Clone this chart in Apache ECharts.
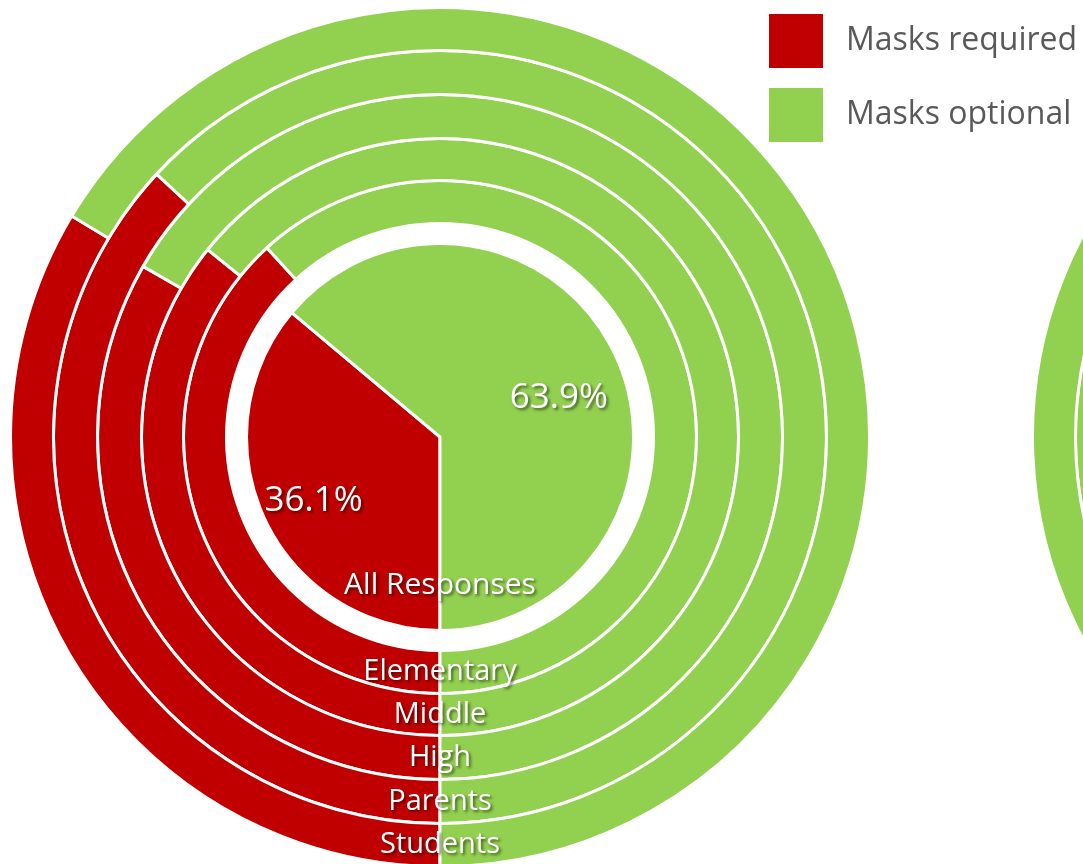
<!DOCTYPE html>
<html>
<head>
<meta charset="utf-8">
<title>Masks required vs optional</title>
<script src="https://cdn.jsdelivr.net/npm/echarts@6/dist/echarts.min.js"></script>
<style>
  html, body { margin: 0; padding: 0; background: #ffffff; }
  #chart { width: 1083px; height: 864px; }
</style>
</head>
<body>
<div id="chart"></div>
<script>
// Response groups, innermost (whole pie) to outermost ring
const groups = ['All Responses', 'Elementary', 'Middle', 'High', 'Parents', 'Students'];
const seriesNames = ['Masks required', 'Masks optional'];

// Left chart: share of responses (%)
const masksRequired = [36.1, 38.2, 35.8, 33.3, 36.9, 33.6];
const masksOptional = [63.9, 61.8, 64.2, 66.7, 63.1, 66.4];

// Right chart (mostly beyond the right edge): share of responses (%)
const masksRequired2 = [14.6, 16.0, 13.8, 12.5, 15.2, 11.9];
const masksOptional2 = [85.4, 84.0, 86.2, 87.5, 84.8, 88.1];

// ---- layout & style ----
const RED = '#C00000';
const GREEN = '#92D050';
const CY = 437;
const centersX = [440, 1462];
// [inner, outer] radius per group; the white borders open the gaps between rings
const radii = [[0, 193.5], [213.5, 256.5], [256.5, 298.5], [298.5, 342.5], [342.5, 386.5], [386.5, 429.5]];
const FONT = "'Open Sans', 'Noto Sans', sans-serif";
const shadow = { textShadowColor: 'rgba(0,0,0,0.55)', textShadowBlur: 3, textShadowOffsetX: 2, textShadowOffsetY: 2 };
// where the two pie percentages sit: radius and a small turn off the slice's mid-angle (deg)
const pctRadius = [142, 125];
const pctTurn = [-2, 7];

const chart = echarts.init(document.getElementById('chart'), null, { renderer: 'canvas' });

function buildChart(cx, req, opt) {
  const list = [];
  groups.forEach(function (g, i) {
    const isPie = i === 0;
    const data = [
      { name: seriesNames[0], value: req[i], itemStyle: { color: RED } },
      { name: seriesNames[1], value: opt[i], itemStyle: { color: GREEN } }
    ];
    const total = req[i] + opt[i];
    list.push({
      type: 'pie',
      name: g,
      center: [cx, CY],
      radius: radii[i],
      startAngle: -90,
      clockwise: true,
      avoidLabelOverlap: false,
      silent: true,
      animation: false,
      itemStyle: { borderColor: '#ffffff', borderWidth: 3 },
      emphasis: { disabled: true },
      labelLine: { show: false },
      label: isPie ? {
        show: true,
        position: 'inside',
        formatter: function (p) { return p.value.toFixed(1) + '%'; },
        color: '#ffffff',
        fontFamily: FONT,
        fontSize: 35,
        textShadowColor: shadow.textShadowColor,
        textShadowBlur: shadow.textShadowBlur,
        textShadowOffsetX: shadow.textShadowOffsetX,
        textShadowOffsetY: shadow.textShadowOffsetY
      } : { show: false },
      labelLayout: isPie ? function (p) {
        const before = p.dataIndex === 0 ? 0 : req[i];
        const val = p.dataIndex === 0 ? req[i] : opt[i];
        const theta = 2 * Math.PI * (before + val / 2) / total + pctTurn[p.dataIndex] * Math.PI / 180;
        const r = pctRadius[p.dataIndex];
        return {
          x: cx - r * Math.sin(theta),
          y: CY + r * Math.cos(theta),
          align: 'center',
          verticalAlign: 'middle'
        };
      } : undefined,
      data: data
    });
  });
  return list;
}

const series = buildChart(centersX[0], masksRequired, masksOptional)
  .concat(buildChart(centersX[1], masksRequired2, masksOptional2));

// Group names written across the bottom of each ring / the pie
const graphics = [];
centersX.forEach(function (cx) {
  groups.forEach(function (g, i) {
    const isPie = i === 0;
    const y = isPie ? CY + 148 : CY + (radii[i][0] + radii[i][1]) / 2;
    graphics.push({
      type: 'text',
      z: 100,
      silent: true,
      style: Object.assign({
        text: g,
        x: cx,
        y: y,
        align: 'center',
        verticalAlign: 'middle',
        fill: '#ffffff',
        font: (isPie ? 30 : 29) + 'px ' + FONT
      }, shadow)
    });
  });
});

chart.setOption({
  backgroundColor: '#ffffff',
  animation: false,
  legend: {
    data: seriesNames,
    orient: 'vertical',
    left: 767,
    top: 12,
    padding: 0,
    icon: 'rect',
    itemWidth: 56,
    itemHeight: 56,
    itemGap: 16,
    selectedMode: false,
    textStyle: {
      fontFamily: FONT,
      fontSize: 32,
      color: '#595959',
      padding: [0, 0, 0, 17]
    }
  },
  graphic: graphics,
  series: series
});
</script>
</body>
</html>
